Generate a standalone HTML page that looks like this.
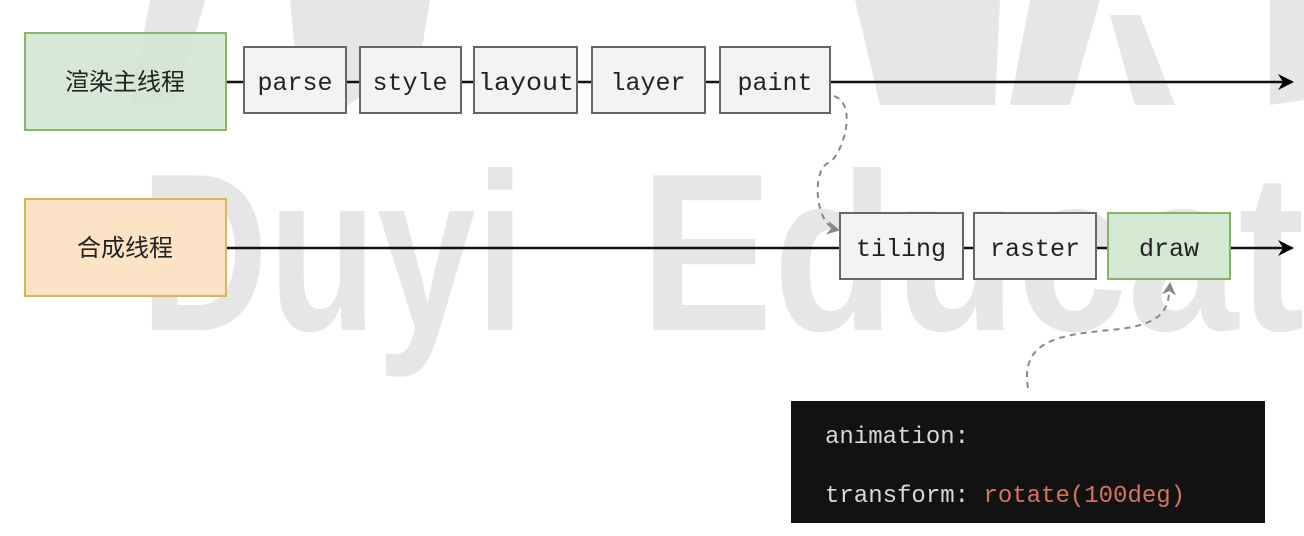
<!DOCTYPE html>
<html><head><meta charset="utf-8"><style>
html,body{margin:0;padding:0;background:#fff;}
svg{display:block}
.m{font-family:"Liberation Mono",monospace;font-size:25px;fill:#222;}
.c{font-family:"Liberation Sans","Noto Sans CJK SC",sans-serif;font-size:24px;fill:#222;}
</style></head><body>
<svg width="1304" height="536" viewBox="0 0 1304 536" xmlns="http://www.w3.org/2000/svg">
<defs>
<marker id="a" markerWidth="16" markerHeight="16" refX="14" refY="8" orient="auto" markerUnits="userSpaceOnUse"><path d="M0,0 L16,8 L0,16 L5,8 Z" fill="#000"/></marker>
<marker id="g" markerWidth="14" markerHeight="14" refX="11" refY="7" orient="auto" markerUnits="userSpaceOnUse"><path d="M0,0 L13,7 L0,14 L4,7 Z" fill="#888"/></marker>
</defs>
<!-- watermark -->
<g fill="#e6e6e6">
<polygon points="150,0 205,0 175,105 130,105"/>
<polygon points="290,0 430,0 420,60 340,110 300,100"/>
<polygon points="855,0 1000,0 995,105 880,105"/>
<polygon points="1030,0 1100,0 1070,105 1010,105"/>
<polygon points="1110,15 1140,15 1175,105 1135,105"/>
<polygon points="1270,0 1304,0 1304,100 1270,105"/>
<text x="140" y="330" font-family="Liberation Sans,sans-serif" font-weight="bold" font-size="225" textLength="385" lengthAdjust="spacingAndGlyphs">Duyi</text>
<text x="640" y="330" font-family="Liberation Sans,sans-serif" font-weight="bold" font-size="225" textLength="720" lengthAdjust="spacingAndGlyphs">Educati</text>
</g>
<!-- lines -->
<line x1="226" y1="82" x2="1292" y2="82" stroke="#111" stroke-width="2.5" marker-end="url(#a)"/>
<line x1="226" y1="248" x2="1292" y2="248" stroke="#111" stroke-width="2.5" marker-end="url(#a)"/>
<!-- row1 -->
<rect x="25" y="33" width="201" height="97" fill="#d5e8d4" stroke="#82b366" stroke-width="2" opacity="0.95"/>
<text x="125" y="90" class="c" text-anchor="middle">渲染主线程</text>
<g fill="#f3f3f3" stroke="#666" stroke-width="2">
<rect x="244" y="47" width="102" height="66"/>
<rect x="360" y="47" width="101" height="66"/>
<rect x="474" y="47" width="103" height="66"/>
<rect x="592" y="47" width="113" height="66"/>
<rect x="720" y="47" width="110" height="66"/>
</g>
<text x="295" y="90" class="m" text-anchor="middle">parse</text>
<text x="410" y="90" class="m" text-anchor="middle">style</text>
<text x="526" y="90" class="m" text-anchor="middle" textLength="96" lengthAdjust="spacingAndGlyphs">layout</text>
<text x="648" y="90" class="m" text-anchor="middle">layer</text>
<text x="775" y="90" class="m" text-anchor="middle">paint</text>
<!-- row2 -->
<rect x="25" y="199" width="201" height="97" fill="#fce3c6" stroke="#d6b656" stroke-width="2"/>
<text x="125" y="256" class="c" text-anchor="middle">合成线程</text>
<g stroke="#666" stroke-width="2">
<rect x="840" y="213" width="123" height="66" fill="#f3f3f3"/>
<rect x="974" y="213" width="122" height="66" fill="#f3f3f3"/>
<rect x="1108" y="213" width="122" height="66" fill="#d5e8d4" stroke="#82b366"/>
</g>
<text x="901" y="256" class="m" text-anchor="middle">tiling</text>
<text x="1035" y="256" class="m" text-anchor="middle">raster</text>
<text x="1169" y="256" class="m" text-anchor="middle">draw</text>
<!-- dashed connectors -->
<path d="M834,96 C860,105 840,160 828,163 C812,170 814,225 838,230" fill="none" stroke="#888" stroke-width="2" stroke-dasharray="6,5" marker-end="url(#g)"/>
<path d="M1028,388 C1020,340 1060,335 1110,330 C1170,325 1168,305 1170,284" fill="none" stroke="#888" stroke-width="2" stroke-dasharray="6,5" marker-end="url(#g)"/>
<!-- code box -->
<rect x="791" y="401" width="474" height="122" fill="#121212"/>
<text x="825" y="443" font-family="Liberation Mono,monospace" font-size="24" fill="#d8d8d8">animation:</text>
<text x="825" y="502" font-family="Liberation Mono,monospace" font-size="24" fill="#d8d8d8">transform: <tspan fill="#d4735f">rotate(100deg)</tspan></text>
</svg>
</body></html>
